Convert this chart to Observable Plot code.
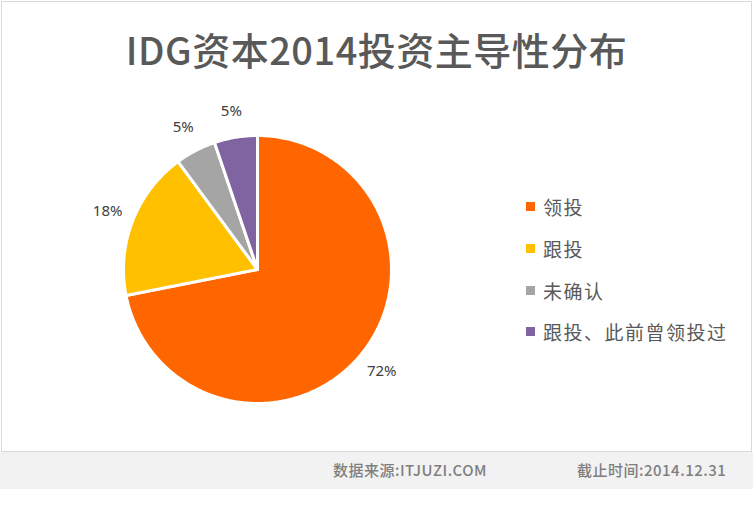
<!DOCTYPE html>
<html><head><meta charset="utf-8">
<script src="https://cdn.jsdelivr.net/npm/d3@7"></script>
<script src="https://cdn.jsdelivr.net/npm/@observablehq/plot@0.6"></script>
<style>
body{margin:0;background:#fff;font-family:"Noto Sans CJK SC",sans-serif;}
#wrap{position:relative;width:753px;height:508px;}
#frame{position:absolute;left:1px;top:1px;width:749px;height:449px;border:1px solid #d9d9d9;background:#fff;}
#title{position:absolute;left:0;top:21px;width:753px;text-align:center;font-size:38px;font-weight:500;color:#595959;letter-spacing:0.5px;line-height:56px;}
#chart{position:absolute;left:0;top:0;}
#legend{position:absolute;left:526px;top:186px;}
.li{display:flex;align-items:center;height:41.7px;font-size:19px;color:#595959;letter-spacing:1.5px;}
.sw{width:9px;height:9px;margin-right:8px;}
#footer{position:absolute;left:0;top:452px;width:753px;height:37px;background:#f2f2f2;font-size:15px;color:#7f7f7f;font-weight:500;letter-spacing:0.5px;}
#footer span{position:absolute;top:7px;}
</style></head>
<body>
<div id="wrap">
<div id="frame"></div>
<div id="chart"></div>
<div id="title"></div>
<div id="legend"></div>
<div id="footer"></div>
</div>
<script>
const titleText = "IDG资本2014投资主导性分布";
const categories = ["领投", "跟投", "未确认", "跟投、此前曾领投过"];
const shares = [71.9, 18.0, 4.9, 5.2];
const labels = ["72%", "18%", "5%", "5%"];
const colors = ["#ff6600", "#ffc000", "#a5a5a5", "#8064a2"];
const sourceText = "数据来源:ITJUZI.COM";
const dateText = "截止时间:2014.12.31";

document.getElementById("title").textContent = titleText;

const rows = categories.map((c, i) => ({cat: c, value: shares[i], label: labels[i]}));
const arcs = d3.pie().sort(null).value(d => d.value)(rows);

// polygon points for each slice on the unit circle
const pts = [];
arcs.forEach(a => {
  const cat = a.data.cat;
  pts.push({cat, x: 0, y: 0});
  const n = Math.max(2, Math.ceil((a.endAngle - a.startAngle) / 0.01));
  for (let k = 0; k <= n; k++) {
    const t = a.startAngle + (a.endAngle - a.startAngle) * k / n;
    pts.push({cat, x: Math.sin(t), y: Math.cos(t)});
  }
});
const labelPts = arcs.map(a => {
  const m = (a.startAngle + a.endAngle) / 2;
  return {label: a.data.label, x: 1.2 * Math.sin(m), y: 1.2 * Math.cos(m)};
});

const cx = 257, cy = 269, r = 134;
const chart = Plot.plot({
  width: 753, height: 451,
  margin: 0,
  x: {domain: [-1, 1], range: [cx - r, cx + r], axis: null},
  y: {domain: [-1, 1], range: [cy + r, cy - r], axis: null},
  color: {domain: categories, range: colors},
  style: {background: "transparent", overflow: "visible"},
  marks: [
    Plot.line(pts, {x: "x", y: "y", z: "cat", fill: "cat", stroke: "#fff", strokeWidth: 3, strokeLinejoin: "round", curve: "linear-closed"}),
    Plot.text(labelPts, {x: "x", y: "y", text: "label", fontSize: 15, fill: "#404040", fontFamily: "'Noto Sans', sans-serif"})
  ]
});
document.getElementById("chart").appendChild(chart);

const lg = document.getElementById("legend");
categories.forEach((c, i) => {
  const d = document.createElement("div"); d.className = "li";
  const s = document.createElement("div"); s.className = "sw"; s.style.background = colors[i];
  const t = document.createElement("span"); t.textContent = c;
  d.appendChild(s); d.appendChild(t); lg.appendChild(d);
});
const f = document.getElementById("footer");
const s1 = document.createElement("span"); s1.style.left = "333px"; s1.textContent = sourceText;
const s2 = document.createElement("span"); s2.style.left = "577px"; s2.textContent = dateText;
f.appendChild(s1); f.appendChild(s2);
</script>
</body></html>
